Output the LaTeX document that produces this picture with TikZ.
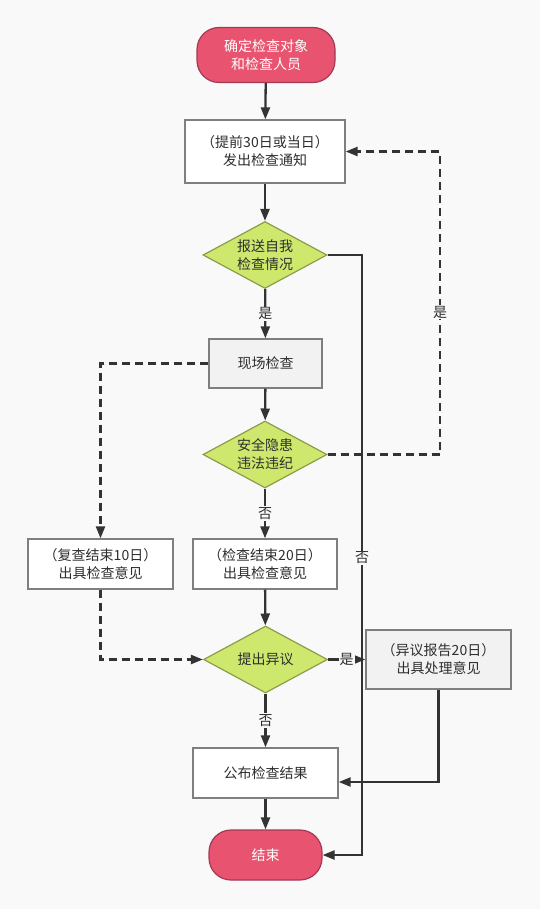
\documentclass[tikz,border=0pt]{standalone}
\usepackage{fontspec}
\setmainfont{Noto Sans CJK SC}
\usetikzlibrary{arrows.meta,shapes.geometric}
\definecolor{bgc}{HTML}{F9F9F9}
\definecolor{pillf}{HTML}{E8536F}
\definecolor{pilld}{HTML}{A33A55}
\definecolor{diaf}{HTML}{CDE86C}
\definecolor{diad}{HTML}{8C9C4A}
\definecolor{boxd}{HTML}{7F7F7F}
\definecolor{boxg}{HTML}{F2F2F2}
\definecolor{linec}{HTML}{333333}
\definecolor{txtc}{HTML}{2E2E2E}
\tikzset{
  base/.style={font=\fontsize{14}{18}\selectfont, align=center, inner sep=0pt, text=txtc},
  pill/.style={base, draw=pilld, fill=pillf, line width=1.2pt, rounded corners=22pt, text=white},
  boxw/.style={base, draw=boxd, fill=white, line width=1.3pt},
  boxgr/.style={base, draw=boxd, fill=boxg, line width=1.3pt},
  dia/.style={base, diamond, aspect=1.85, draw=diad, fill=diaf, line width=1.2pt, minimum width=124pt, minimum height=67pt},
  conn/.style={draw=linec, line width=2.3pt, -{Triangle[length=12pt,width=9pt]}},
  connd/.style={conn, dash pattern=on 8pt off 5pt},
  lbl/.style={font=\fontsize{14}{16}\selectfont, text=txtc, fill=bgc, inner sep=1pt}
}
\begin{document}
\begin{tikzpicture}[x=1pt,y=-1pt]
\fill[bgc] (0,0) rectangle (540,909);
\useasboundingbox (0,0) rectangle (540,909);

\node[pill, minimum width=138pt, minimum height=55pt] (start) at (266,55) {确定检查对象\\和检查人员};
\node[boxw, minimum width=160pt, minimum height=63pt] (b1) at (265,151.5) {（提前30日或当日）\\发出检查通知};
\node[dia] (d1) at (265,255) {报送自我\\检查情况};
\node[boxgr, minimum width=113pt, minimum height=49pt] (b2) at (265.5,363.5) {现场检查};
\node[dia] (d2) at (265,454.5) {安全隐患\\违法违纪};
\node[boxw, minimum width=145pt, minimum height=50pt] (b3) at (100.5,564) {（复查结束10日）\\出具检查意见};
\node[boxw, minimum width=144pt, minimum height=50pt] (b4) at (265,564) {（检查结束20日）\\出具检查意见};
\node[dia] (d3) at (265.5,659.5) {提出异议};
\node[boxgr, minimum width=145pt, minimum height=59pt] (b5) at (438.5,659.5) {（异议报告20日）\\出具处理意见};
\node[boxw, minimum width=145pt, minimum height=50pt] (b6) at (265.5,773) {公布检查结果};
\node[pill, minimum width=113pt, minimum height=50pt] (end) at (265.5,855) {结束};

\coordinate (rline) at (362,0);
\coordinate (rdash) at (440,0);

% main flow
\draw[conn] (start) -- (b1);
\draw[conn] (b1) -- (d1);
\draw[conn] (d1) -- node[lbl] (l1) {是} (b2);
\draw[conn] (b2) -- (d2);
\draw[conn] (d2) -- node[lbl] (l2) {否} (b4);
\draw[conn] (b4) -- (d3);
\draw[conn] (d3) -- node[lbl] (l3) {否} (b6);
\draw[conn] (b6) -- (end);

% right solid line: d1 -> end
\draw[conn] (d1.east) -| (rline |- end.east) -- (end.east);
\node[lbl] (l4) at (362,558) {否};

% dashed feedback d2 -> b1
\draw[connd] (d2.east) -| (rdash |- b1.east) -- (b1.east);
\node[lbl] (l5) at (440,312) {是};

% dashed b2 -> b3 -> d3
\draw[connd] (b2.west) -| (b3.north);
\draw[connd] (b3.south) |- (d3.west);

% d3 -> b5
\draw[conn] (d3.east) -- node[lbl] (l6) {是} (b5.west);

% b5 -> b6
\coordinate (b6in) at ([yshift=-9pt]b6.east);
\draw[conn] (b5.south) |- (b6in);
\end{tikzpicture}
\end{document}
